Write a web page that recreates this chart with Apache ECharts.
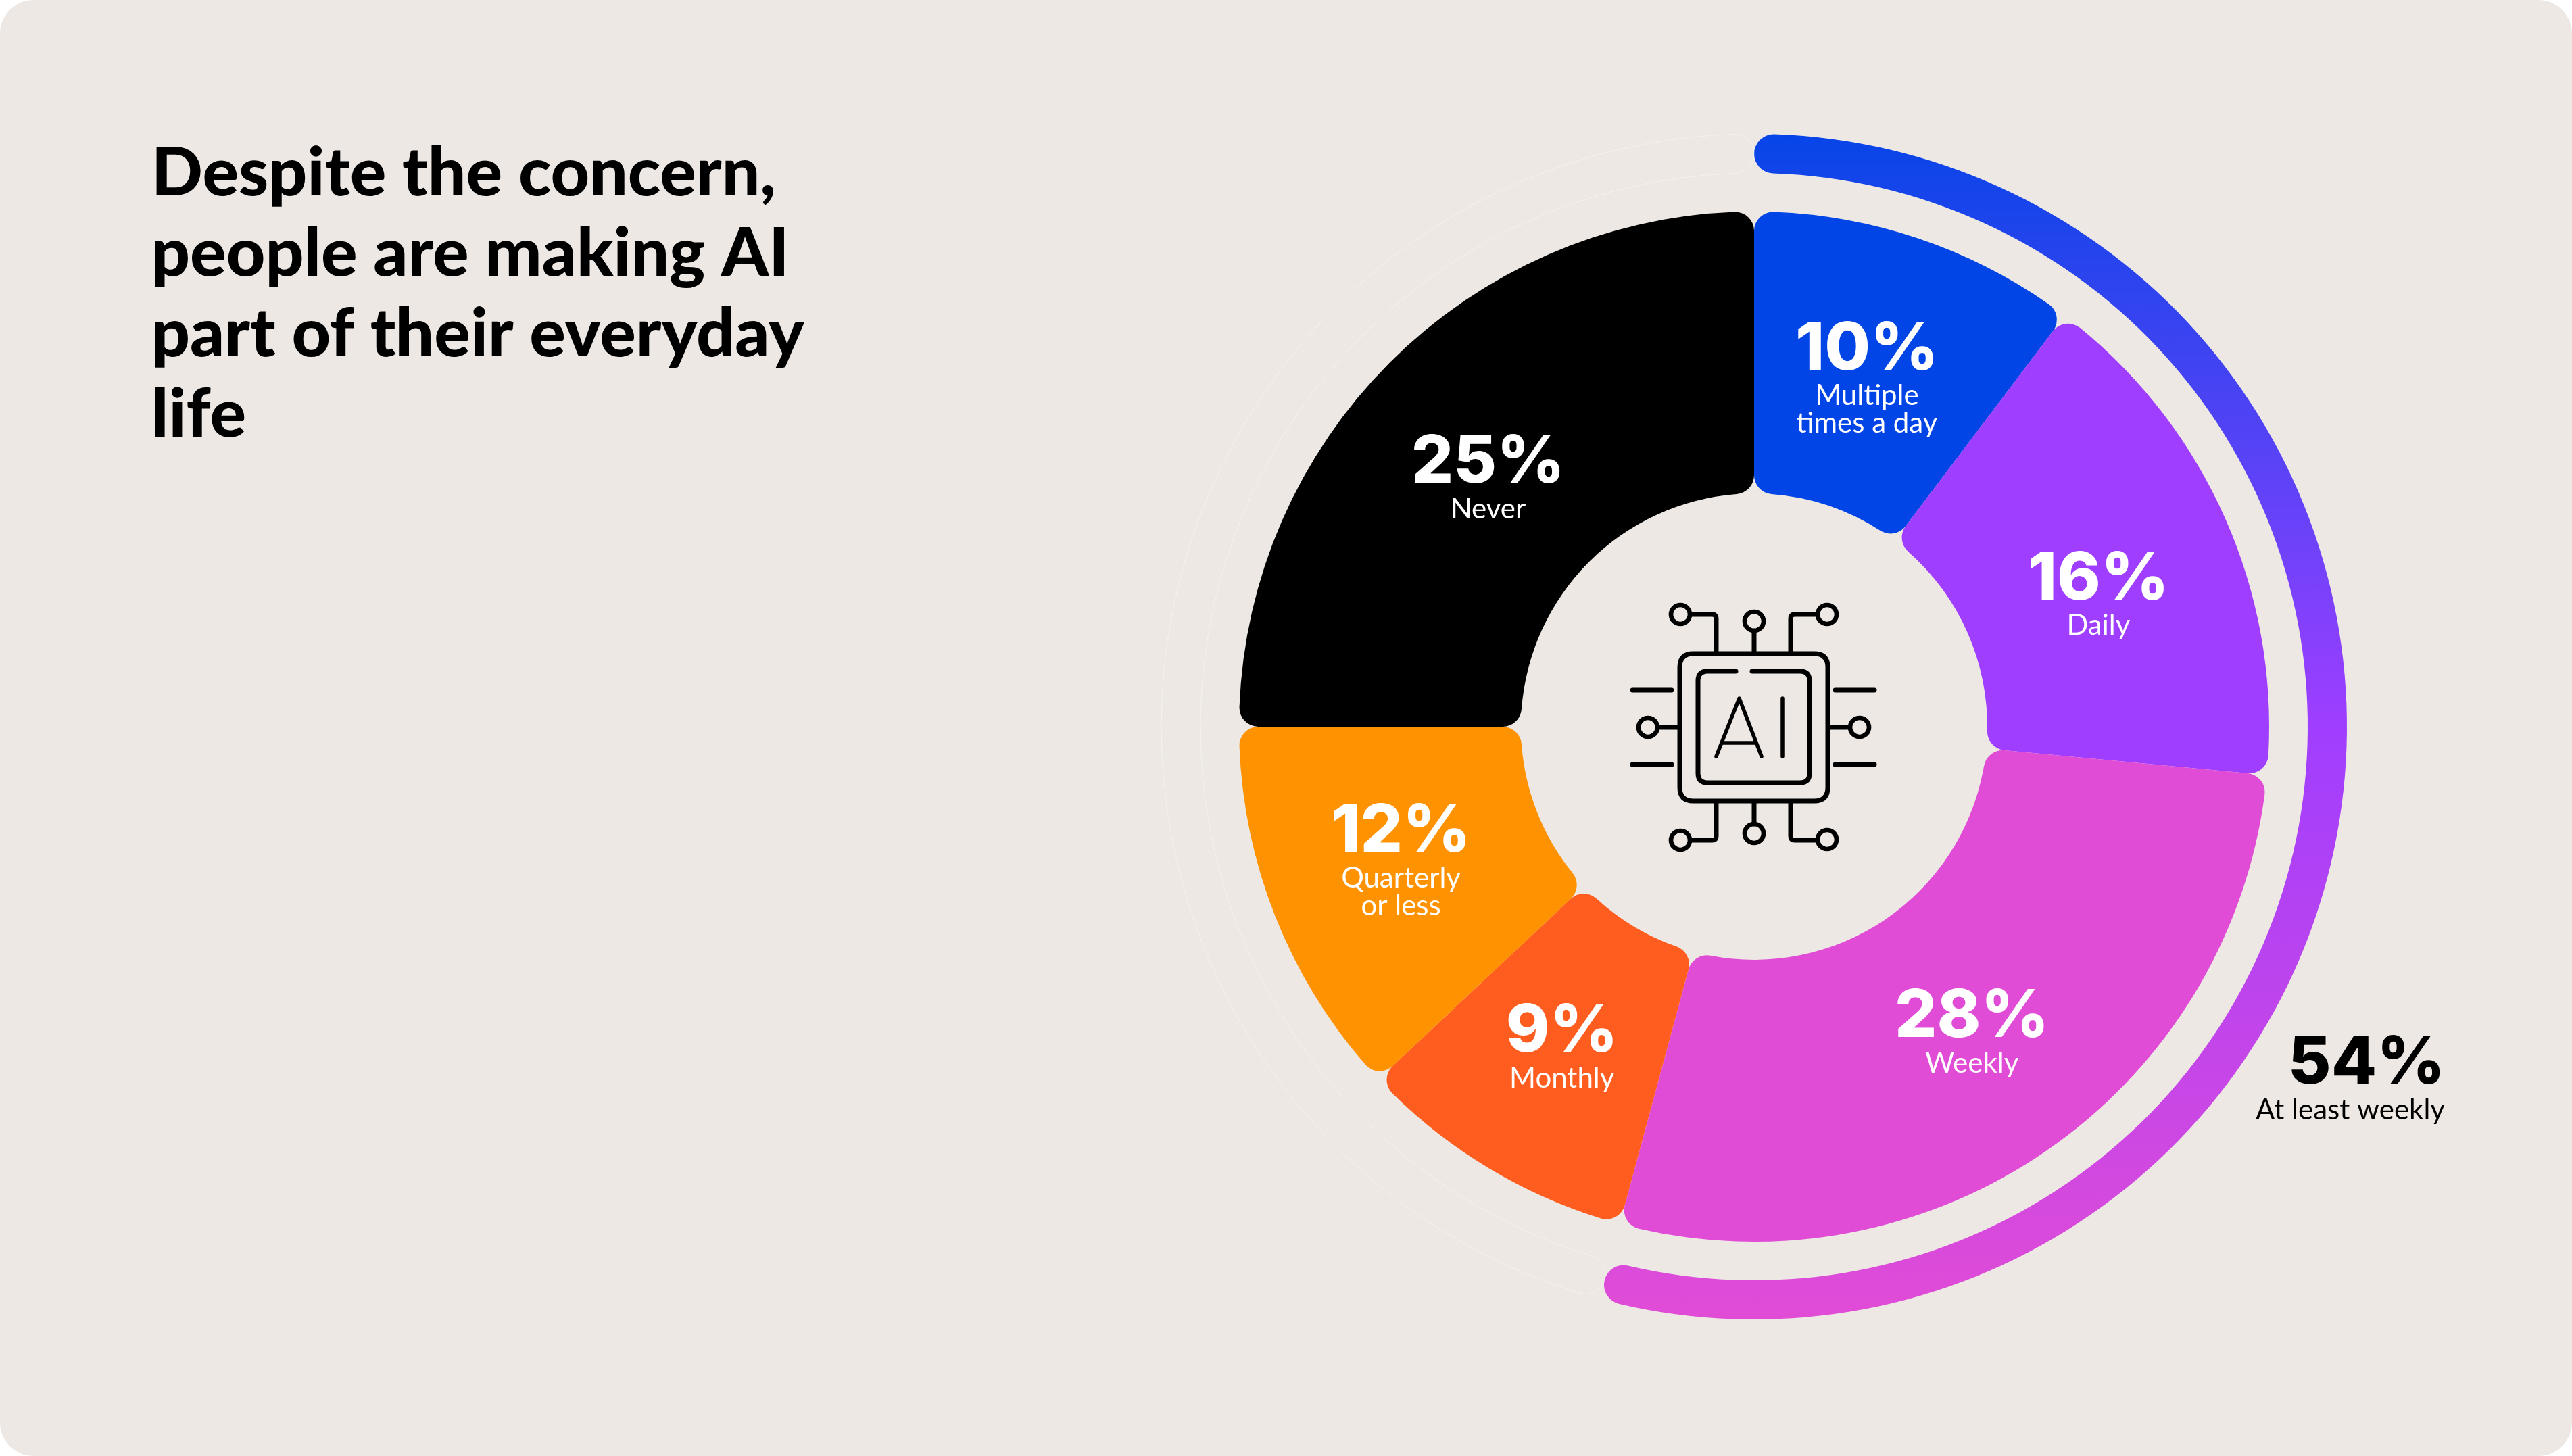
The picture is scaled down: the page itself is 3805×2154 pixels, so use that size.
<!DOCTYPE html>
<html><head><meta charset="utf-8">
<style>html,body{margin:0;padding:0;background:#fff}#c{width:3805px;height:2154px}</style>
<script src="https://cdn.jsdelivr.net/npm/echarts@6/dist/echarts.min.js"></script>
</head><body><div id="c"></div>
<script>
const titleText = "Despite the concern,\npeople are making AI\npart of their everyday\nlife";
const categories = ["Multiple\ntimes a day","Daily","Weekly","Monthly","Quarterly\nor less","Never"];
const values = [10.3,16.2,27.7,8.8,12,25];
const colors = ["#0245E6","#A03EFF","#E14CD6","#FF5C1F","#FF9200","#000000"];
const ringNames = ["At least weekly","Rest"];
const ringValues = [54.2,45.8];

const BG = "#EDE8E3";
const chart = echarts.init(document.getElementById('c'), null, {renderer:'canvas', width:3805, height:2154});

const iconPath = [
 "M2505 967 H2684 Q2704 967 2704 987 V1165 Q2704 1185 2684 1185 H2505 Q2485 1185 2485 1165 V987 Q2485 967 2505 967 Z",
 "M2568 993 H2526 Q2512 993 2512 1007 V1144 Q2512 1158 2526 1158 H2663 Q2677 1158 2677 1144 V1007 Q2677 993 2663 993 H2592",
 "M2503 909 H2533 Q2539 909 2539 915 V965",
 "M2595 933 V965",
 "M2686 909 H2655 Q2649 909 2649 915 V965",
 "M2503 1243 H2533 Q2539 1243 2539 1237 V1187",
 "M2595 1187 V1219",
 "M2686 1243 H2655 Q2649 1243 2649 1237 V1187",
 "M2455 1076 H2482","M2707 1076 H2733",
 "M2415 1021 H2473","M2415 1131 H2473","M2715 1021 H2773","M2715 1131 H2773"
].join(" ");
const iconCircles = [[2486,909],[2595,919],[2703,909],[2438,1076],[2751,1076],[2486,1243],[2595,1233],[2703,1242]];
const iconAI = "M2539 1119 L2573 1033 L2606 1119 M2550 1099 H2596 M2637 1033 V1119";
echarts.graphic.registerShape('chipIcon', echarts.graphic.extendPath(iconPath));
echarts.graphic.registerShape('chipAI', echarts.graphic.extendPath(iconAI));

const labelNudge = [[-10,11],[0,27],[5,-7],[2,-5],[-5,-8],[0,24]];

const option = {
  animation:false,
  backgroundColor:'transparent',
  title:{
    text:titleText,left:219,top:192,
    textStyle:{fontFamily:'Lato',fontWeight:900,fontSize:100,lineHeight:119,color:'#000'}
  },
  graphic:[
    {type:'rect',z:-10,shape:{x:0,y:0,width:3805,height:2154,r:50},style:{fill:BG}},
    {type:'chipIcon',z:5,silent:true,style:{fill:'none',stroke:'#000',lineWidth:7,lineCap:'round',lineJoin:'round'}},
    {type:'chipAI',z:5,silent:true,style:{fill:'none',stroke:'#000',lineWidth:5.5,lineCap:'round',lineJoin:'round'}},
    ...iconCircles.map(c=>({type:'circle',z:5,silent:true,shape:{cx:c[0],cy:c[1],r:14},style:{fill:'none',stroke:'#000',lineWidth:6.7}})),
    {type:'text',z:6,silent:true,x:3617,y:1529,style:{
      text:`{v|${Math.round(ringValues[0])}%}\n{n|${ringNames[0]}}`,align:'right',verticalAlign:'top',fill:'#000',
      rich:{
        v:{fontFamily:'Inter',fontWeight:800,fontSize:98,lineHeight:90,fill:'#000',align:'right'},
        n:{fontFamily:'Lato',fontWeight:400,fontSize:42,lineHeight:46,fill:'#000',align:'right'}
      }}}
  ],
  series:[
    {
      type:'pie',name:'ring',silent:true,center:[2595,1075],radius:[819,877],startAngle:90,clockwise:true,
      label:{show:false},labelLine:{show:false},avoidLabelOverlap:false,
      itemStyle:{borderRadius:29},
      data:[
        {name:ringNames[0],value:ringValues[0],itemStyle:{color:{type:'linear',x:0,y:0,x2:0,y2:1,colorStops:[
          {offset:0,color:'#0745E8'},{offset:0.344,color:'#6E42FA'},{offset:0.5,color:'#A03EFF'},{offset:1,color:'#E14CD6'}]}}},
        {name:ringNames[1],value:ringValues[1],itemStyle:{color:'rgba(0,0,0,0)',borderColor:'rgba(255,255,255,0.4)',borderWidth:1}}
      ]
    },
    {
      type:'pie',name:'share',silent:true,center:[2595,1075],radius:[345,762],startAngle:90,clockwise:true,
      avoidLabelOverlap:false,labelLine:{show:false},
      itemStyle:{borderRadius:28},
      labelLayout:p=>({dx:labelNudge[p.dataIndex][0],dy:labelNudge[p.dataIndex][1]}),
      label:{show:true,position:'inside',color:'#fff',
        formatter:p=>`{v|${Math.round(p.value)}%}\n{n|${p.name.split('\n').join('}\n{n|')}}`,
        rich:{
          v:{fontFamily:'Inter',fontWeight:800,fontSize:98,lineHeight:96,color:'#fff',align:'center'},
          n:{fontFamily:'Lato',fontWeight:400,fontSize:42,lineHeight:41,color:'#fff',align:'center'}
        }},
      data:categories.map((n,i)=>({name:n,value:values[i],itemStyle:{color:colors[i]}}))
    }
  ]
};
chart.setOption(option);
</script></body></html>
